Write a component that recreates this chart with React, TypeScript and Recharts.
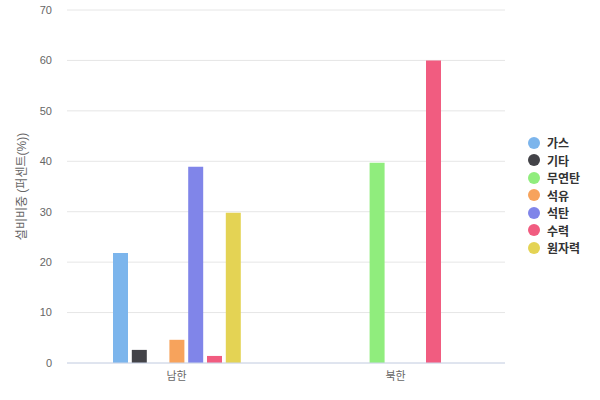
import React from 'react';
import { BarChart, Bar, XAxis, YAxis, CartesianGrid, Legend, Label } from 'recharts';

const regions = ['남한', '북한'];
const gas = [21.8, null];
const etc = [2.6, null];
const anthracite = [null, 39.7];
const oil = [4.6, null];
const coal = [38.9, null];
const hydro = [1.4, 60];
const nuclear = [29.8, null];
const yTicks = [0, 10, 20, 30, 40, 50, 60, 70];

const SERIES = [
  { key: 'gas', name: '가스', color: '#7cb5ec', values: gas },
  { key: 'etc', name: '기타', color: '#434348', values: etc },
  { key: 'anthracite', name: '무연탄', color: '#90ed7d', values: anthracite },
  { key: 'oil', name: '석유', color: '#f7a35c', values: oil },
  { key: 'coal', name: '석탄', color: '#8085e9', values: coal },
  { key: 'hydro', name: '수력', color: '#f15c80', values: hydro },
  { key: 'nuclear', name: '원자력', color: '#e4d354', values: nuclear },
];

const data = regions.map((region, i) => {
  const row: Record<string, string | number | null> = { region };
  SERIES.forEach((s) => {
    row[s.key] = s.values[i];
  });
  return row;
});

const FONT = '"Liberation Sans", "Noto Sans CJK KR", sans-serif';

const LegendList = () => (
  <div style={{ fontFamily: FONT }}>
    {SERIES.map((s) => (
      <div
        key={s.key}
        style={{ display: 'flex', alignItems: 'center', height: 17.5, fontSize: 12, fontWeight: 'bold', color: '#333333' }}
      >
        <span
          style={{ width: 12, height: 12, borderRadius: 6, background: s.color, marginRight: 7, flexShrink: 0 }}
        />
        <span>{s.name}</span>
      </div>
    ))}
  </div>
);

const YTitle = ({ viewBox }: any) => {
  const cx = viewBox.x + 21.5;
  const cy = viewBox.y + viewBox.height / 2;
  return (
    <text
      x={cx}
      y={cy}
      transform={`rotate(-90 ${cx} ${cy})`}
      textAnchor="middle"
      dominantBaseline="central"
      fill="#666666"
      fontSize={12}
      fontFamily={FONT}
    >
      설비비중 (퍼센트(%))
    </text>
  );
};

export default function App() {
  return (
    <div style={{ position: 'absolute', left: 0, top: 0, width: 600, height: 400, background: '#fff' }}>
      <BarChart
        width={600}
        height={400}
        data={data}
        margin={{ top: 10, right: 95, left: 0, bottom: 15 }}
        barSize={15}
        barGap={3.8}
      >
        <CartesianGrid horizontal vertical={false} stroke="#e6e6e6" />
        <XAxis
          dataKey="region"
          axisLine={{ stroke: '#ccd6eb' }}
          tickLine={false}
          height={22}
          tickMargin={3}
          tick={{ fill: '#666666', fontSize: 11, fontFamily: FONT }}
        />
        <YAxis
          width={67}
          domain={[0, 70]}
          ticks={yTicks}
          axisLine={false}
          tickLine={false}
          tickSize={6}
          tickMargin={9}
          tick={{ fill: '#666666', fontSize: 11, fontFamily: FONT }}
        >
          <Label content={YTitle} />
        </YAxis>
        <Legend
          layout="horizontal"
          verticalAlign="middle"
          content={LegendList}
          wrapperStyle={{ left: 528, top: 134, width: 72 }}
        />
        {SERIES.map((s) => (
          <Bar key={s.key} dataKey={s.key} name={s.name} fill={s.color} isAnimationActive={false} />
        ))}
      </BarChart>
    </div>
  );
}
